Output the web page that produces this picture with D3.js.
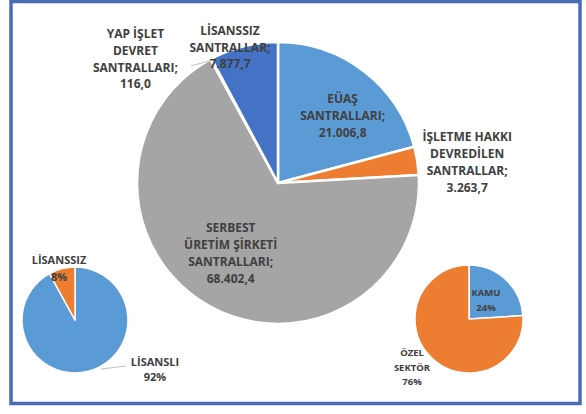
<!DOCTYPE html>
<html><head><meta charset="utf-8">
<script src="https://cdn.jsdelivr.net/npm/d3@7"></script>
<style>body{margin:0;background:#fff}svg{display:block}</style>
</head><body>
<svg id="chart" width="586" height="414"></svg>
<script>
// ---- data ----
const mainCategories = ["EÜAŞ SANTRALLARI", "İŞLETME HAKKI DEVREDİLEN SANTRALLAR", "SERBEST ÜRETİM ŞİRKETİ SANTRALLARI", "YAP İŞLET DEVRET SANTRALLARI", "LİSANSSIZ SANTRALLAR"];
const mainValues = [21006.8, 3263.7, 68402.4, 116.0, 7877.7];
const mainValueLabels = ["21.006,8", "3.263,7", "68.402,4", "116,0", "7.877,7"];
const mainLabelLines = [["EÜAŞ", "SANTRALLARI;"], ["İŞLETME HAKKI", "DEVREDİLEN", "SANTRALLAR;"], ["SERBEST", "ÜRETİM ŞİRKETİ", "SANTRALLARI;"], ["YAP İŞLET", "DEVRET", "SANTRALLARI;"], ["LİSANSSIZ", "SANTRALLAR;"]];

const licCategories = ["LİSANSLI", "LİSANSSIZ"];
const licValues = [92, 8];
const ownCategories = ["KAMU", "ÖZEL SEKTÖR"];
const ownValues = [24, 76];

// ---- style / layout ----
const mainColors = ["#5b9bd5", "#ed7d31", "#a5a5a5", "#ffc000", "#4472c4"];
const licColors = ["#5b9bd5", "#ed7d31"];
const ownColors = ["#5b9bd5", "#ed7d31"];
// label placement: [angle in degrees (clockwise from top), radius factor]
const mainLabelLayout = [[44, 0.66], [83.7, 1.35], [214, 0.6], [311, 1.34], [340.5, 1.02]];

const svg = d3.select("#chart");
const textColor = "#404040";

// frame
svg.append("rect").attr("x", 11).attr("y", 1.5).attr("width", 569).attr("height", 402)
  .attr("fill", "#fff").attr("stroke", "#4a6cb5").attr("stroke-width", 3.5);

function drawPie(values, colors, cx, cy, r, strokeW) {
  const pie = d3.pie().sort(null).value(d => d);
  const arcs = pie(values);
  const arc = d3.arc().innerRadius(0).outerRadius(r);
  const g = svg.append("g").attr("transform", `translate(${cx},${cy})`);
  g.selectAll("path").data(arcs).join("path")
    .attr("d", arc).attr("fill", (d, i) => colors[i])
    .attr("stroke", "#fff").attr("stroke-width", strokeW).attr("stroke-linejoin", "round");
  return {g, arcs};
}

function lines(g, x, y, arr, size, lh) {
  const t = g.append("text").attr("x", x).attr("y", y)
    .attr("text-anchor", "middle").attr("font-family", "Open Sans, Liberation Sans, sans-serif")
    .attr("font-weight", "bold").attr("font-size", size).attr("fill", textColor);
  const n = arr.length;
  arr.forEach((s, i) => {
    t.append("tspan").attr("x", x).attr("y", y + (i - (n - 1) / 2) * lh).attr("dy", "0.35em").text(s);
  });
  return t;
}

// main pie
const mcx = 278, mcy = 183, mr = 141;
const main = drawPie(mainValues, mainColors, mcx, mcy, mr, 2.5);
mainValues.forEach((v, i) => {
  const [deg, f] = mainLabelLayout[i];
  const a = deg * Math.PI / 180;
  const x = Math.sin(a) * mr * f, y = -Math.cos(a) * mr * f;
  lines(main.g, x, y, mainLabelLines[i].concat([mainValueLabels[i]]), 12, 16.8);
});
// small leader for YID
{
  const a = main.arcs[3];
  const mid = (a.startAngle + a.endAngle) / 2;
  const px = Math.sin(mid) * mr, py = -Math.cos(mid) * mr;
  main.g.append("line").attr("x1", px - 2).attr("y1", py + 2).attr("x2", px - 20).attr("y2", py + 7)
    .attr("stroke", "#bfbfbf").attr("stroke-width", 1);
}

// left small pie (licence)
const lic = drawPie(licValues, licColors, 75, 320, 53, 1.5);
lines(svg, 59, 260, [licCategories[1]], 11, 14);
lines(svg, 59, 277, [licValues[1] + "%"], 11, 14);
lines(svg, 155, 370, [licCategories[0], licValues[0] + "%"], 11, 15);
svg.append("line").attr("x1", 101).attr("y1", 369).attr("x2", 126).attr("y2", 366)
  .attr("stroke", "#bfbfbf").attr("stroke-width", 1);

// right small pie (ownership)
const own = drawPie(ownValues, ownColors, 469, 319, 54, 1.5);
lines(svg, 486, 300, [ownCategories[0], ownValues[0] + "%"], 9.5, 14.5);
lines(svg, 412, 367.5, ["ÖZEL", "SEKTÖR", ownValues[1] + "%"], 9.5, 14.5);
</script>
</body></html>
